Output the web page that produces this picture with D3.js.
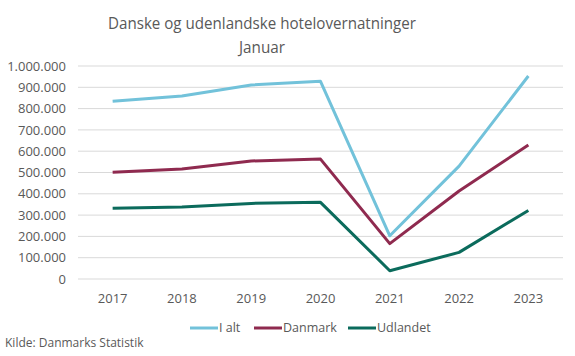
<!DOCTYPE html>
<html><head><meta charset="utf-8">
<script src="https://cdn.jsdelivr.net/npm/d3@7"></script>
<style>body{margin:0;background:#fff}svg{display:block;font-family:"Open Sans",sans-serif}</style>
</head><body><div id="c"></div>
<script>
const years = ["2017","2018","2019","2020","2021","2022","2023"];
const iAlt = [834000, 859000, 911000, 928000, 203000, 530000, 953000];
const danmark = [501000, 516000, 554000, 563000, 166000, 413000, 629000];
const udlandet = [332000, 338000, 355000, 360000, 39000, 125000, 322000];
const yTicks = [0,100000,200000,300000,400000,500000,600000,700000,800000,900000,1000000];
const seriesNames = ["I alt","Danmark","Udlandet"];
const colors = ["#72c2da","#8f2a4f","#0b6b5c"];
const W=575,H=356;
const svg=d3.select("#c").append("svg").attr("width",W).attr("height",H);
const x=d3.scaleBand().domain(years).range([78,563]);
const y=d3.scaleLinear().domain([0,1000000]).range([279,66]);
const fmt=v=>d3.format(",")(v).replace(/,/g,".");
const text="#595959";
// grid
svg.append("g").selectAll("line").data(yTicks).join("line")
 .attr("x1",78).attr("x2",563).attr("y1",d=>y(d)).attr("y2",d=>y(d))
 .attr("stroke","#d9d9d9").attr("stroke-width",1);
// y axis
const ya=svg.append("g").attr("transform","translate(78,0)")
 .call(d3.axisLeft(y).tickValues(yTicks).tickFormat(fmt).tickSize(0).tickPadding(12));
ya.select(".domain").remove();
ya.selectAll("text").attr("fill",text).style("font-size","13px").style("font-family","Open Sans");
// x axis
const xa=svg.append("g").attr("transform","translate(0,279)")
 .call(d3.axisBottom(x).tickSize(0).tickPadding(15));
xa.select(".domain").remove();
xa.selectAll("text").attr("fill",text).style("font-size","13px").style("font-family","Open Sans");
// lines
const data=[iAlt,danmark,udlandet];
const line=d3.line().x((d,i)=>x(years[i])+x.bandwidth()/2).y(d=>y(d));
svg.append("g").selectAll("path").data(data).join("path")
 .attr("d",line).attr("fill","none").attr("stroke",(d,i)=>colors[i])
 .attr("stroke-width",3).attr("stroke-linejoin","round");
// title
svg.append("text").attr("x",262).attr("y",29).attr("text-anchor","middle")
 .attr("textLength",308).attr("lengthAdjust","spacingAndGlyphs")
 .attr("fill",text).style("font-size","17px").text("Danske og udenlandske hotelovernatninger");
svg.append("text").attr("x",262).attr("y",53).attr("text-anchor","middle")
 .attr("textLength",46).attr("lengthAdjust","spacingAndGlyphs")
 .attr("fill",text).style("font-size","17px").text("Januar");
// legend
const lx=[190,254,348];
const lg=svg.append("g").selectAll("g").data(seriesNames).join("g")
 .attr("transform",(d,i)=>`translate(${lx[i]},328)`);
lg.append("line").attr("x1",0).attr("x2",28).attr("stroke",(d,i)=>colors[i]).attr("stroke-width",3);
lg.append("text").attr("x",29).attr("dy","0.35em").attr("fill",text).style("font-size","12.5px").text(d=>d);
svg.append("text").attr("x",5).attr("y",347).attr("fill",text).style("font-size","12px").text("Kilde: Danmarks Statistik");
</script></body></html>
